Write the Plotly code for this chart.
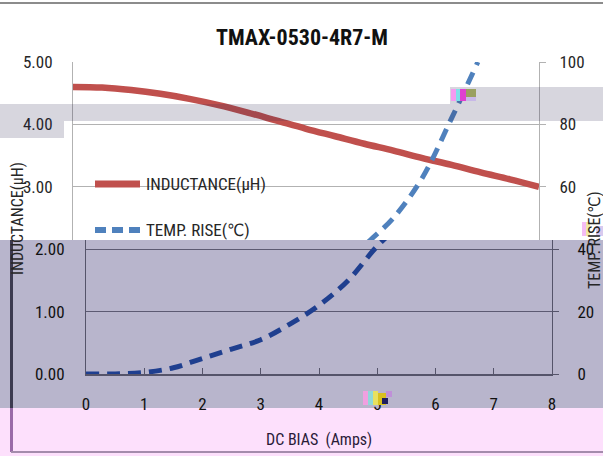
import plotly.graph_objects as go

# ---------------- data ----------------
dc_bias = [0, 0.5, 1, 1.5, 2, 2.5, 3, 3.5, 4, 4.5, 5, 5.5, 6, 6.5, 7, 7.5, 8]
inductance = [4.60, 4.59, 4.55, 4.49, 4.41, 4.31, 4.19, 4.06, 3.93, 3.81,
              3.69, 3.58, 3.46, 3.35, 3.23, 3.12, 3.00]
temp_bias = [0, 0.5, 1, 1.5, 2, 2.5, 3, 3.5, 4, 4.5, 5, 5.5, 6, 6.5, 6.95]
temp_rise = [0, 0, 0.5, 2, 5, 8, 11, 16, 22, 30, 41, 50, 63, 82, 100]

x_ticks = [0, 1, 2, 3, 4, 5, 6, 7, 8]
title_text = "TMAX-0530-4R7-M"
name_l = "INDUCTANCE(μH)"
name_t = "TEMP. RISE(℃)"
x_title = "DC BIAS\u00a0 (Amps)"

# ---------------- geometry helpers ----------------
W, H = 603, 456
FONT = "Liberation Sans Narrow, Roboto Condensed, DejaVu Sans Condensed, Liberation Sans, sans-serif"


def fx(px):
    return px / W


def fy(py):
    return 1 - py / H


Y_TOP, Y_SPLIT, Y_BOT = 62, 240, 374
L_PER_PX = 5 / (Y_BOT - Y_TOP)
T_PER_PX = 100 / (Y_BOT - Y_TOP)
l_split = (Y_BOT - Y_SPLIT) * L_PER_PX
t_split = (Y_BOT - Y_SPLIT) * T_PER_PX

RED = "#c0504d"
BLUE = "#4f81bd"
NAVY = "#1f3f8f"
DASH = "13px,8px"

fig = go.Figure()

# upper copy
fig.add_trace(go.Scatter(x=dc_bias, y=inductance, xaxis="x", yaxis="y", mode="lines",
                         line=dict(color=RED, width=6.5, shape="spline"),
                         name=name_l, showlegend=False, hoverinfo="skip"))
fig.add_trace(go.Scatter(x=temp_bias, y=temp_rise, xaxis="x", yaxis="y2", mode="lines",
                         line=dict(color=BLUE, width=5, dash=DASH, shape="spline"),
                         name=name_t, showlegend=False, hoverinfo="skip"))
# lower (shifted) copy
fig.add_trace(go.Scatter(x=dc_bias, y=inductance, xaxis="x2", yaxis="y3", mode="lines",
                         line=dict(color=RED, width=6.5, shape="spline"),
                         name=name_l, showlegend=False, hoverinfo="skip"))
fig.add_trace(go.Scatter(x=temp_bias, y=temp_rise, xaxis="x2", yaxis="y4", mode="lines",
                         line=dict(color=NAVY, width=5, dash=DASH, shape="spline"),
                         name=name_t, showlegend=False, hoverinfo="skip"))

tick_top = dict(family=FONT, size=17, color="#262626")
tick_bot = dict(family=FONT, size=17, color="#111111")

fig.update_layout(
    template="none",
    width=W, height=H, autosize=False,
    margin=dict(l=0, r=0, t=0, b=0, pad=0),
    paper_bgcolor="white", plot_bgcolor="rgba(0,0,0,0)",
    showlegend=False, hovermode=False,
    title=dict(text=title_text, x=fx(302), y=fy(37), xref="paper", yref="paper",
               xanchor="center", yanchor="middle", automargin=False,
               font=dict(family=FONT, size=22, color="#111111", weight="bold")),
    xaxis=dict(domain=[fx(73), fx(539)], range=[0, 8], anchor="y", automargin=False,
               showgrid=False, showticklabels=False, zeroline=False, showline=False, ticks=""),
    yaxis=dict(domain=[fy(Y_SPLIT), fy(Y_TOP)], range=[l_split, 5], anchor="x",
               automargin=False,
               tickvals=[3, 4, 5], tickformat=".2f", tickfont=tick_top,
               showgrid=True, gridcolor="#b2b2b2", gridwidth=1, zeroline=False,
               showline=True, linecolor="#b2b2b2", linewidth=1, ticks="",
               ticklabelstandoff=16),
    yaxis2=dict(domain=[fy(Y_SPLIT), fy(Y_TOP)], range=[t_split, 100], anchor="x",
                automargin=False,
                overlaying="y", side="right", tickvals=[60, 80, 100], tickfont=tick_top,
                showgrid=False, zeroline=False, showline=True, linecolor="#b2b2b2",
                ticks="outside", ticklen=6, tickcolor="#b2b2b2", ticklabelstandoff=10),
    xaxis2=dict(domain=[fx(86), fx(552)], range=[0, 8], anchor="y3", automargin=False,
                side="bottom",
                tickvals=x_ticks, tickfont=tick_bot, showgrid=False, zeroline=False,
                showline=True, linecolor="#55546a", linewidth=1.5,
                ticks="inside", ticklen=6, tickcolor="#55546a", ticklabelstandoff=14),
    yaxis3=dict(domain=[fy(Y_BOT), fy(Y_SPLIT)], range=[0, l_split], anchor="x2",
                automargin=False,
                tickvals=[0, 1, 2], tickformat=".2f", tickfont=tick_bot,
                showgrid=True, gridcolor="#5c5a72", gridwidth=1, zeroline=False,
                showline=True, linecolor="#55546a", linewidth=1, ticks="",
                ticklabelstandoff=17),
    yaxis4=dict(domain=[fy(Y_BOT), fy(Y_SPLIT)], range=[0, t_split], anchor="x2",
                automargin=False,
                overlaying="y3", side="right", tickvals=[0, 20, 40], tickfont=tick_bot,
                showgrid=False, zeroline=False, showline=True, linecolor="#55546a",
                ticks="outside", ticklen=6, tickcolor="#55546a", ticklabelstandoff=15),
)


def rect(x0, y0, x1, y1, color, layer="below"):
    fig.add_shape(type="rect", xref="paper", yref="paper",
                  x0=fx(x0), x1=fx(x1), y0=fy(y1), y1=fy(y0),
                  fillcolor=color, line=dict(width=0), layer=layer)


def seg(x0, y0, x1, y1, color, width, dash=None, layer="below"):
    line = dict(color=color, width=width)
    if dash:
        line["dash"] = dash
    fig.add_shape(type="line", xref="paper", yref="paper",
                  x0=fx(x0), x1=fx(x1), y0=fy(y0), y1=fy(y1), line=line, layer=layer)


# lower tinted areas
rect(0, Y_SPLIT, W, 408, "#b8b5cc")
rect(0, 408, W, H, "#fde0fc")
seg(11.5, Y_SPLIT, 11.5, 408, "#3c3a50", 3)
seg(11.5, 408, 11.5, 452, "#9a6aa8", 3)
seg(11, 452, W, 452, "#a48cac", 2)
# top border
seg(0, 3, W, 3, "#8c8c8c", 2)

# light gray translucent bands
BAND = "rgba(40,35,80,0.19)"
rect(0, 104, 450, 121, BAND, layer="above")
rect(450, 87, W, 121, BAND, layer="above")
rect(0, 121, 64, 138, BAND, layer="above")

# small colour-noise patches
for (x0, y0, x1, y1, c) in [
    (451, 89, 456, 101, "#f59af0"), (456, 89, 460, 101, "#7fe0e8"),
    (460, 89, 466, 101, "#e040d0"), (466, 89, 476, 97, "#9aa060"),
    (466, 97, 476, 101, "#c8b8e8"),
    (363, 391, 368, 405, "#f0a0e0"), (368, 391, 373, 405, "#90d8d8"),
    (373, 391, 378, 405, "#e8e060"), (378, 393, 386, 405, "#d8c020"),
    (382, 398, 388, 404, "#202060"), (386, 391, 392, 397, "#c090d8"),
    (582, 222, 586, 236, "rgba(240,160,240,0.7)"), (586, 222, 590, 236, "rgba(232,224,128,0.7)"),
    (596, 226, 603, 236, "rgba(200,180,232,0.7)"),
]:
    rect(x0, y0, x1, y1, c, layer="above")

# legend (manual)
seg(95, 184, 140, 184, RED, 7, layer="above")
seg(95, 230, 140, 230, BLUE, 6, dash="11px,6px", layer="above")
fig.add_annotation(text=name_l, x=fx(144), y=fy(184), xref="paper", yref="paper",
                   xanchor="left", yanchor="middle", showarrow=False,
                   font=dict(family=FONT, size=17, color="#262626"))
fig.add_annotation(text=name_t, x=fx(144), y=fy(230), xref="paper", yref="paper",
                   xanchor="left", yanchor="middle", showarrow=False,
                   font=dict(family=FONT, size=17, color="#262626"))

# axis titles
fig.add_annotation(text=name_l, x=fx(17), y=fy(219), xref="paper", yref="paper",
                   xanchor="center", yanchor="middle", textangle=-90, showarrow=False,
                   font=dict(family=FONT, size=16, color="#262626"))
fig.add_annotation(text=name_t, x=fx(594), y=fy(240), xref="paper", yref="paper",
                   xanchor="center", yanchor="middle", textangle=-90, showarrow=False,
                   font=dict(family=FONT, size=16, color="#262626"))
fig.add_annotation(text=x_title, x=fx(319), y=fy(439), xref="paper", yref="paper",
                   xanchor="center", yanchor="middle", showarrow=False,
                   font=dict(family=FONT, size=16, color="#2a1a38"))

fig.write_html("out.html", config={"displayModeBar": False, "staticPlot": True},
               post_script="document.body.style.margin='0px';")
